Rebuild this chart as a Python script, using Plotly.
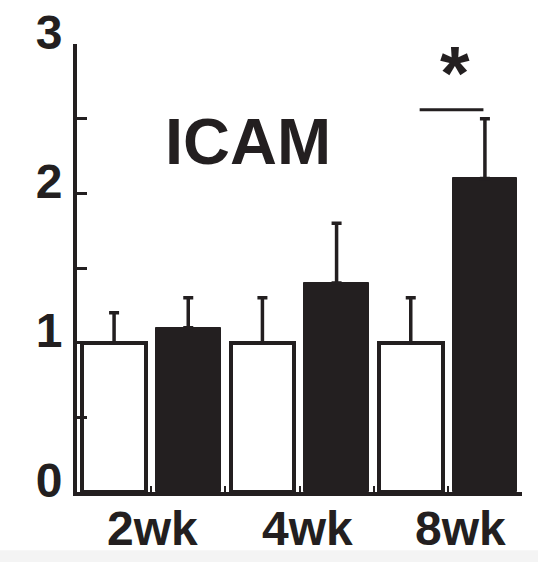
import plotly.graph_objects as go

groups = ["2wk", "4wk", "8wk"]
control_mean = [1.0, 1.0, 1.0]
control_err = [0.2, 0.3, 0.3]
treated_mean = [1.1, 1.4, 2.1]
treated_err = [0.2, 0.4, 0.4]
y_tick_vals = [0, 0.5, 1, 1.5, 2, 2.5, 3]
y_tick_text = ["0", "", "1", "", "2", "", "3"]
group_label_x = [1.02, 3.11, 5.17]

INK = "#231f20"
FONT = "Arial, Liberation Sans, sans-serif"

ctrl_x = [0.5 + 2 * i for i in range(len(groups))]
trt_x = [1.5 + 2 * i for i in range(len(groups))]

fig = go.Figure()
fig.add_trace(go.Bar(
    x=ctrl_x, y=control_mean, width=0.86,
    marker=dict(color="white", line=dict(color=INK, width=4)),
    error_y=dict(type="data", array=control_err, arrayminus=[0] * 3, symmetric=False,
                 color=INK, thickness=3.5, width=5),
    showlegend=False,
))
fig.add_trace(go.Bar(
    x=trt_x, y=treated_mean, width=0.87,
    marker=dict(color=INK, line=dict(color=INK, width=1)),
    error_y=dict(type="data", array=treated_err, arrayminus=[0] * 3, symmetric=False,
                 color=INK, thickness=3.5, width=5),
    showlegend=False,
))

for gx, g in zip(group_label_x, groups):
    fig.add_annotation(x=gx, y=0, xref="x", yref="y", yshift=-36, text=f"<b>{g}</b>",
                       showarrow=False, font=dict(family=FONT, size=48, color=INK),
                       xanchor="center", yanchor="middle")

fig.add_annotation(x=2.3, y=2.35, xref="x", yref="y", text="<b>ICAM</b>", showarrow=False,
                   font=dict(family=FONT, size=65, color=INK), xanchor="center", yanchor="middle")
fig.add_annotation(x=5.09, y=2.81, xref="x", yref="y", text="<b>*</b>", showarrow=False,
                   font=dict(family=FONT, size=76, color=INK), xanchor="center", yanchor="middle")
fig.add_shape(type="line", x0=4.62, x1=5.48, y0=2.56, y1=2.56, xref="x", yref="y",
              line=dict(color=INK, width=3))

fig.add_shape(type="rect", xref="paper", yref="paper", x0=-0.2, x1=1.1, y0=-0.16, y1=-0.13,
              fillcolor="#f4f4f4", line=dict(width=0), layer="below")

fig.update_layout(
    width=538, height=562,
    margin=dict(l=77, r=16, t=44, b=70),
    plot_bgcolor="white", paper_bgcolor="white",
    bargap=0, barmode="overlay",
    xaxis=dict(range=[0, 6], showline=True, linewidth=4, linecolor=INK, showgrid=False,
               zeroline=False, ticks="inside", tickvals=[1, 2, 3, 4, 5, 6], ticklen=6,
               tickwidth=2, tickcolor=INK, showticklabels=False, automargin=False),
    yaxis=dict(range=[0, 3], showline=True, linewidth=4, linecolor=INK, showgrid=False,
               zeroline=False, ticks="inside", tickvals=y_tick_vals, ticktext=y_tick_text,
               ticklen=10, tickwidth=3, tickcolor=INK, ticklabelstandoff=1,
               ticklabelshift=-12, automargin=False,
               tickfont=dict(family=FONT, size=48, color=INK, weight="bold")),
)

fig.write_html("out.html")
